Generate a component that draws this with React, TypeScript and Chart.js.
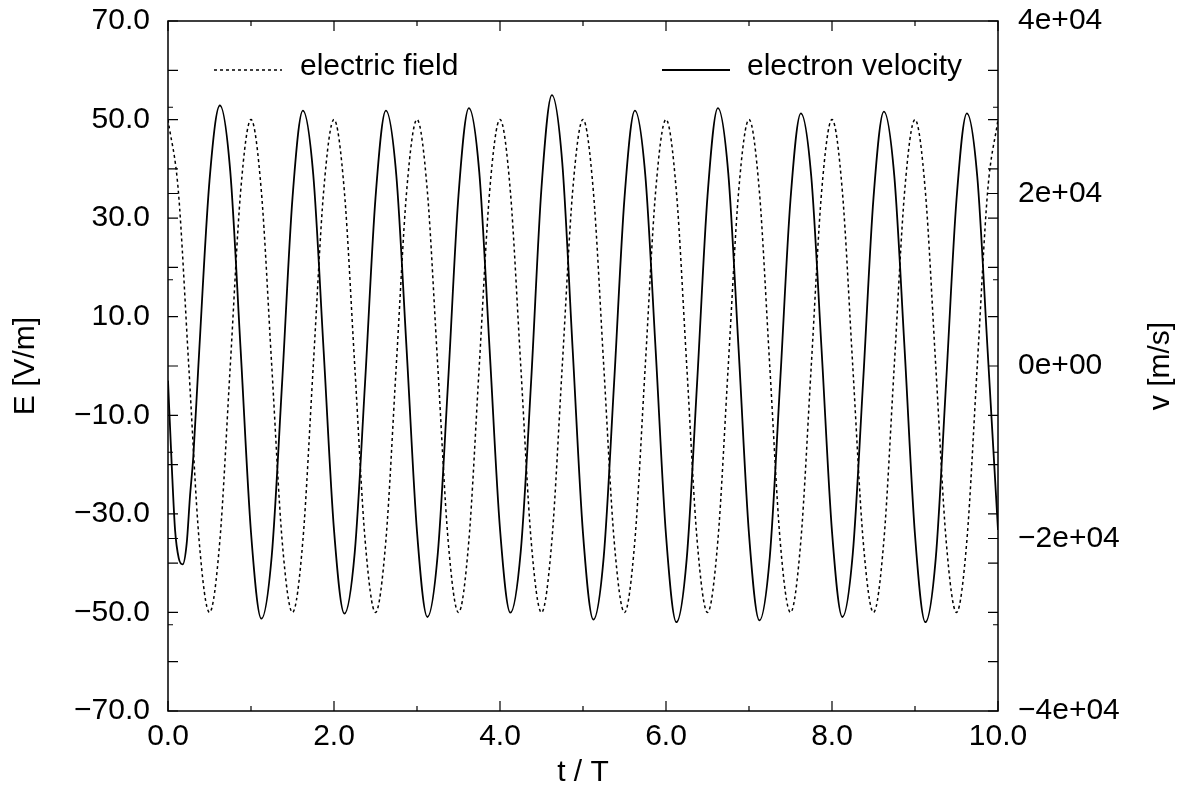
import React, { useEffect, useRef } from 'react';
import { Chart, registerables } from 'chart.js';

Chart.register(...registerables);

// ---------- data ----------
const FIELD_T = [
  0, 0.125, 0.25, 0.375, 0.5, 0.625, 0.75, 0.875,
  1, 1.125, 1.25, 1.375, 1.5, 1.625, 1.75, 1.875,
  2, 2.125, 2.25, 2.375, 2.5, 2.625, 2.75, 2.875,
  3, 3.125, 3.25, 3.375, 3.5, 3.625, 3.75, 3.875,
  4, 4.125, 4.25, 4.375, 4.5, 4.625, 4.75, 4.875,
  5, 5.125, 5.25, 5.375, 5.5, 5.625, 5.75, 5.875,
  6, 6.125, 6.25, 6.375, 6.5, 6.625, 6.75, 6.875,
  7, 7.125, 7.25, 7.375, 7.5, 7.625, 7.75, 7.875,
  8, 8.125, 8.25, 8.375, 8.5, 8.625, 8.75, 8.875,
  9, 9.125, 9.25, 9.375, 9.5, 9.625, 9.75, 9.875,
  10,
];
const FIELD_E = [
  50, 35.4, 0, -35.4, -50, -35.4, 0, 35.4,
  50, 35.4, 0, -35.4, -50, -35.4, 0, 35.4,
  50, 35.4, 0, -35.4, -50, -35.4, 0, 35.4,
  50, 35.4, 0, -35.4, -50, -35.4, 0, 35.4,
  50, 35.4, 0, -35.4, -50, -35.4, 0, 35.4,
  50, 35.4, 0, -35.4, -50, -35.4, 0, 35.4,
  50, 35.4, 0, -35.4, -50, -35.4, 0, 35.4,
  50, 35.4, 0, -35.4, -50, -35.4, 0, 35.4,
  50, 35.4, 0, -35.4, -50, -35.4, 0, 35.4,
  50, 35.4, 0, -35.4, -50, -35.4, 0, 35.4,
  50,
];

const VEL_T = [
  0, 0.044, 0.085, 0.13, 0.177, 0.225, 0.265, 0.305, 0.366,
  0.5, 0.625, 0.75, 0.875,
  1, 1.125, 1.25, 1.375, 1.5, 1.625, 1.75, 1.875,
  2, 2.125, 2.25, 2.375, 2.5, 2.625, 2.75, 2.875,
  3, 3.125, 3.25, 3.375, 3.5, 3.625, 3.75, 3.875,
  4, 4.125, 4.25, 4.375, 4.5, 4.625, 4.75, 4.875,
  5, 5.125, 5.25, 5.375, 5.5, 5.625, 5.75, 5.875,
  6, 6.125, 6.25, 6.375, 6.5, 6.625, 6.75, 6.875,
  7, 7.125, 7.25, 7.375, 7.5, 7.625, 7.75, 7.875,
  8, 8.125, 8.25, 8.375, 8.5, 8.625, 8.75, 8.875,
  9, 9.125, 9.25, 9.375, 9.5, 9.625, 9.75, 9.875,
  10,
];
const VEL_V = [
  -1700, -11300, -19000, -22300, -23000, -20600, -15100, -10500, 0,
  21500, 30200, 22600, 1900,
  -19300, -29300, -22000, -1900, 19500, 29600, 22200, 1800,
  -19000, -28700, -21600, -1800, 19500, 29600, 22200, 1900,
  -19200, -29100, -21800, -1800, 19800, 29900, 22500, 1900,
  -18900, -28600, -21500, -1800, 20700, 31400, 23600, 2000,
  -19400, -29400, -22100, -1900, 19500, 29600, 22200, 1900,
  -19600, -29700, -22300, -1900, 19700, 29900, 22400, 1900,
  -19500, -29500, -22200, -1900, 19300, 29300, 22000, 1800,
  -19200, -29100, -21800, -1800, 19500, 29500, 22100, 1900,
  -19600, -29700, -22300, -1900, 19300, 29300, 22000, 1800,
  -19000,
];

const X_TICKS = [0, 2, 4, 6, 8, 10];
const X_MINOR = [1, 3, 5, 7, 9];
const E_TICKS = [-70, -50, -30, -10, 10, 30, 50, 70];
const E_MINOR = [-60, -40, -20, 0, 20, 40, 60];
const V_TICKS = [-40000, -20000, 0, 20000, 40000];
const V_MINOR = [-30000, -10000, 10000, 30000];

const SERIES_NAMES = ['electric field', 'electron velocity'];
const X_TITLE = 't / T';
const Y_TITLE = 'E [V/m]';
const Y2_TITLE = 'v [m/s]';

const FONT_FAMILY = '"Liberation Sans", Arial, Helvetica, sans-serif';
const FONT_SIZE = 30;

const minus = (s: string) => s.replace('-', '\u2212');
const fmtFixed = (v: number) => minus(Number(v).toFixed(1));
const fmtExp = (v: number) => {
  if (v === 0) return '0e+00';
  const e = Math.floor(Math.log10(Math.abs(v)));
  const m = Math.round(v / Math.pow(10, e));
  const s = `${Math.abs(m)}e${e >= 0 ? '+' : '-'}${String(Math.abs(e)).padStart(2, '0')}`;
  return (m < 0 ? '\u2212' : '') + s;
};

const decorPlugin = {
  id: 'decor',
  afterDraw(chart: any) {
    const { ctx, chartArea: a, scales } = chart;
    const xs = scales.x, ys = scales.y, y2s = scales.y2;
    ctx.save();
    ctx.strokeStyle = '#000';
    ctx.fillStyle = '#000';
    ctx.setLineDash([]);
    ctx.lineWidth = 1.5;
    ctx.strokeRect(a.left, a.top, a.right - a.left, a.bottom - a.top);

    ctx.lineWidth = 1.2;
    ctx.beginPath();
    const tx = (vals: number[], len: number) => vals.forEach((v) => {
      const p = xs.getPixelForValue(v);
      ctx.moveTo(p, a.bottom); ctx.lineTo(p, a.bottom - len);
      ctx.moveTo(p, a.top); ctx.lineTo(p, a.top + len);
    });
    const ty = (sc: any, vals: number[], len: number) => vals.forEach((v) => {
      const p = sc.getPixelForValue(v);
      ctx.moveTo(a.left, p); ctx.lineTo(a.left + len, p);
      ctx.moveTo(a.right, p); ctx.lineTo(a.right - len, p);
    });
    tx(X_TICKS, 10);
    tx(X_MINOR, 5);
    ty(ys, E_TICKS, 10);
    ty(ys, E_MINOR, 10);
    ty(y2s, V_TICKS, 10);
    ty(y2s, V_MINOR, 5);
    ctx.stroke();

    // legend
    ctx.font = `${FONT_SIZE}px ${FONT_FAMILY}`;
    ctx.textBaseline = 'alphabetic';
    ctx.textAlign = 'left';
    const legendY = 70;
    const entries = [
      { x0: 214, x1: 282, tx: 300, dash: [3, 3], w: 1.5 },
      { x0: 662, x1: 730, tx: 747, dash: [], w: 1.8 },
    ];
    entries.forEach((en, i) => {
      ctx.beginPath();
      ctx.setLineDash(en.dash);
      ctx.lineWidth = en.w;
      ctx.moveTo(en.x0, legendY);
      ctx.lineTo(en.x1, legendY);
      ctx.stroke();
      ctx.setLineDash([]);
      ctx.fillText(SERIES_NAMES[i], en.tx, 75);
    });

    // axis titles
    const midY = (a.top + a.bottom) / 2;
    ctx.textAlign = 'center';
    ctx.save();
    ctx.translate(34, midY);
    ctx.rotate(-Math.PI / 2);
    ctx.fillText(Y_TITLE, 0, 0);
    ctx.restore();
    ctx.save();
    ctx.translate(1169, midY);
    ctx.rotate(-Math.PI / 2);
    ctx.fillText(Y2_TITLE, 0, 0);
    ctx.restore();
    ctx.fillText(X_TITLE, (a.left + a.right) / 2, 781);
    ctx.restore();
  },
};

export default function App() {
  const ref = useRef<HTMLCanvasElement | null>(null);
  useEffect(() => {
    document.body.style.margin = '0';
    const canvas = ref.current;
    if (!canvas) return;
    const tickFont = { family: FONT_FAMILY, size: FONT_SIZE };
    const chart = new Chart(canvas, {
      type: 'line',
      data: {
        datasets: [
          {
            label: SERIES_NAMES[0],
            data: FIELD_T.map((t, i) => ({ x: t, y: FIELD_E[i] })),
            yAxisID: 'y',
            borderColor: '#000',
            borderWidth: 1.5,
            borderDash: [3, 3],
            pointRadius: 0,
            fill: false,
            cubicInterpolationMode: 'monotone',
          },
          {
            label: SERIES_NAMES[1],
            data: VEL_T.map((t, i) => ({ x: t, y: VEL_V[i] })),
            yAxisID: 'y2',
            borderColor: '#000',
            borderWidth: 1.8,
            pointRadius: 0,
            fill: false,
            cubicInterpolationMode: 'monotone',
          },
        ],
      },
      options: {
        responsive: false,
        animation: false,
        devicePixelRatio: 1,
        layout: { padding: { top: 21, left: 0, right: 0, bottom: 0 } },
        plugins: { legend: { display: false }, tooltip: { enabled: false }, title: { display: false } },
        scales: {
          x: {
            type: 'linear',
            position: 'bottom',
            min: 0,
            max: 10,
            grid: { display: false, drawTicks: false },
            border: { display: false },
            afterBuildTicks: (s: any) => { s.ticks = X_TICKS.map((v) => ({ value: v })); },
            afterFit: (s: any) => { s.height = 78; s.paddingLeft = 0; s.paddingRight = 0; },
            ticks: {
              font: tickFont, color: '#000', padding: 8, maxRotation: 0, autoSkip: false,
              callback: (v: any) => fmtFixed(Number(v)),
            },
          },
          y: {
            type: 'linear',
            position: 'left',
            min: -70,
            max: 70,
            grid: { display: false, drawTicks: false },
            border: { display: false },
            afterBuildTicks: (s: any) => { s.ticks = E_TICKS.map((v) => ({ value: v })); },
            afterFit: (s: any) => { s.width = 168; s.paddingTop = 0; s.paddingBottom = 0; },
            ticks: {
              font: tickFont, color: '#000', padding: 18, autoSkip: false,
              callback: (v: any) => fmtFixed(Number(v)),
            },
          },
          y2: {
            type: 'linear',
            position: 'right',
            min: -40000,
            max: 40000,
            grid: { display: false, drawTicks: false },
            border: { display: false },
            afterBuildTicks: (s: any) => { s.ticks = V_TICKS.map((v) => ({ value: v })); },
            afterFit: (s: any) => { s.width = 186; s.paddingTop = 0; s.paddingBottom = 0; },
            ticks: {
              font: tickFont, color: '#000', padding: 20, autoSkip: false,
              callback: (v: any) => fmtExp(Number(v)),
            },
          },
        },
      },
      plugins: [decorPlugin],
    } as any);
    return () => chart.destroy();
  }, []);
  return (
    <div style={{ position: 'absolute', left: 0, top: 0, width: 1184, height: 789, background: '#fff' }}>
      <canvas ref={ref} width={1184} height={789} style={{ display: 'block', width: 1184, height: 789 }} />
    </div>
  );
}
